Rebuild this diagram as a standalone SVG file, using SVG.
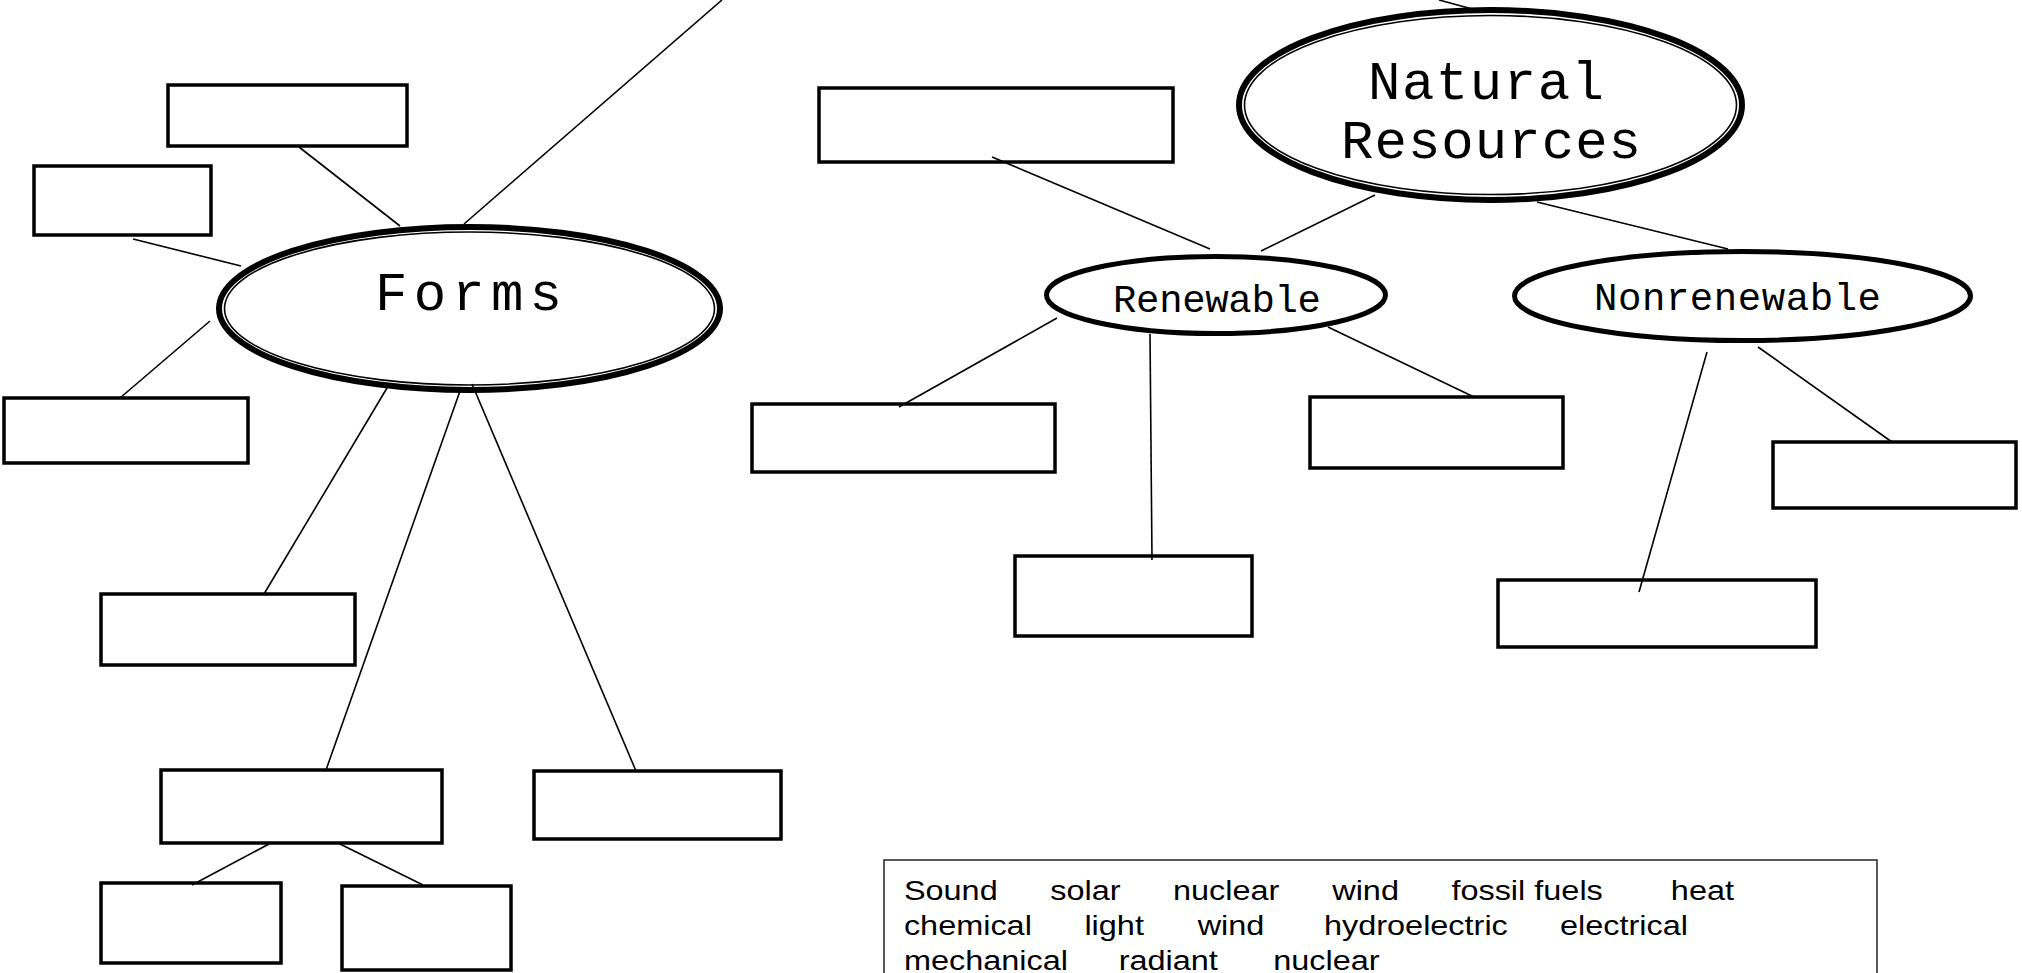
<svg xmlns="http://www.w3.org/2000/svg" width="2022" height="973" viewBox="0 0 2022 973">
<style>
.box{fill:#fff;stroke:#000;stroke-width:3.5}
.link{stroke:#000;stroke-width:1.6;fill:none}
.outer{fill:#fff;stroke:#000;stroke-width:6}
.inner{fill:none;stroke:#000;stroke-width:1.6}
.sub{fill:#fff;stroke:#000;stroke-width:5}
.big{font-family:"Liberation Mono","DejaVu Sans Mono",monospace;font-size:54px;fill:#000}
.mid{font-family:"Liberation Mono","DejaVu Sans Mono",monospace;font-size:39px;fill:#000}
.bank{font-family:"Liberation Sans",Arial,sans-serif;font-size:27.5px;fill:#000}
</style>
<rect width="2022" height="973" fill="#fff"/>
<g id="forms">
<ellipse class="outer" cx="469.5" cy="308.5" rx="250.5" ry="81.5"/>
<ellipse class="inner" cx="469.5" cy="308.5" rx="245" ry="76.5"/>
<text class="big" x="375" y="310" textLength="187" lengthAdjust="spacing">Forms</text>
</g>
<g id="natural-resources">
<ellipse class="outer" cx="1490.5" cy="105" rx="251.5" ry="95"/>
<ellipse class="inner" cx="1490.5" cy="105" rx="246" ry="89.5"/>
<text class="big" x="1368" y="99" textLength="236" lengthAdjust="spacing">Natural</text>
<text class="big" x="1341" y="158" textLength="300" lengthAdjust="spacing">Resources</text>
</g>
<g id="renewable">
<ellipse class="sub" cx="1216" cy="295" rx="169.5" ry="38.5"/>
<text class="mid" x="1113" y="312" textLength="208" lengthAdjust="spacing">Renewable</text>
</g>
<g id="nonrenewable">
<ellipse class="sub" cx="1742.5" cy="296" rx="228" ry="44.5"/>
<text class="mid" x="1594" y="310" textLength="287" lengthAdjust="spacing">Nonrenewable</text>
</g>
<g id="box-a"><rect class="box" x="168" y="85" width="239" height="61"/></g>
<g id="box-b"><rect class="box" x="34" y="166" width="177" height="69"/></g>
<g id="box-c"><rect class="box" x="4" y="398" width="244" height="65"/></g>
<g id="box-d"><rect class="box" x="101" y="594" width="254" height="71"/></g>
<g id="box-e"><rect class="box" x="161" y="770" width="281" height="73"/></g>
<g id="box-f"><rect class="box" x="534" y="771" width="247" height="68"/></g>
<g id="box-g"><rect class="box" x="101" y="883" width="180" height="80"/></g>
<g id="box-h"><rect class="box" x="342" y="886" width="169" height="84"/></g>
<g id="box-i"><rect class="box" x="819" y="88" width="354" height="74"/></g>
<g id="box-j"><rect class="box" x="752" y="404" width="303" height="68"/></g>
<g id="box-k"><rect class="box" x="1015" y="556" width="237" height="80"/></g>
<g id="box-l"><rect class="box" x="1310" y="397" width="253" height="71"/></g>
<g id="box-m"><rect class="box" x="1773" y="442" width="243" height="66"/></g>
<g id="box-n"><rect class="box" x="1498" y="580" width="318" height="67"/></g>
<g id="connectors">
<line class="link" x1="722" y1="0" x2="464" y2="224"/>
<line class="link" x1="299" y1="147" x2="400" y2="226"/>
<line class="link" x1="133" y1="239" x2="241" y2="266"/>
<line class="link" x1="210" y1="321" x2="120" y2="398"/>
<line class="link" x1="387" y1="388" x2="264" y2="594"/>
<line class="link" x1="460" y1="391" x2="326" y2="770"/>
<line class="link" x1="472" y1="384" x2="636" y2="771"/>
<line class="link" x1="269" y1="844" x2="192" y2="885"/>
<line class="link" x1="340" y1="844" x2="423" y2="885"/>
<line class="link" x1="1439" y1="0" x2="1476" y2="10"/>
<line class="link" x1="992" y1="157" x2="1210" y2="249"/>
<line class="link" x1="1375" y1="195" x2="1261" y2="251"/>
<line class="link" x1="1537" y1="202" x2="1728" y2="249"/>
<line class="link" x1="1057" y1="318" x2="899" y2="407"/>
<line class="link" x1="1150" y1="334" x2="1152" y2="560"/>
<line class="link" x1="1328" y1="327" x2="1474" y2="397"/>
<line class="link" x1="1707" y1="352" x2="1639" y2="592"/>
<line class="link" x1="1758" y1="347" x2="1892" y2="442"/>
</g>
<g id="word-bank">
<rect x="884" y="860" width="993" height="130" fill="#fff" stroke="#222" stroke-width="1.5"/>
<g transform="scale(1.18,1)" class="bank">
<text x="766" y="900">Sound</text>
<text x="890" y="900">solar</text>
<text x="994" y="900">nuclear</text>
<text x="1129" y="900">wind</text>
<text x="1230" y="900">fossil fuels</text>
<text x="1416" y="900">heat</text>
<text x="766" y="935">chemical</text>
<text x="919" y="935">light</text>
<text x="1015" y="935">wind</text>
<text x="1122" y="935">hydroelectric</text>
<text x="1322" y="935">electrical</text>
<text x="766" y="970">mechanical</text>
<text x="948" y="970">radiant</text>
<text x="1079" y="970">nuclear</text>
</g>
</g>
</svg>
